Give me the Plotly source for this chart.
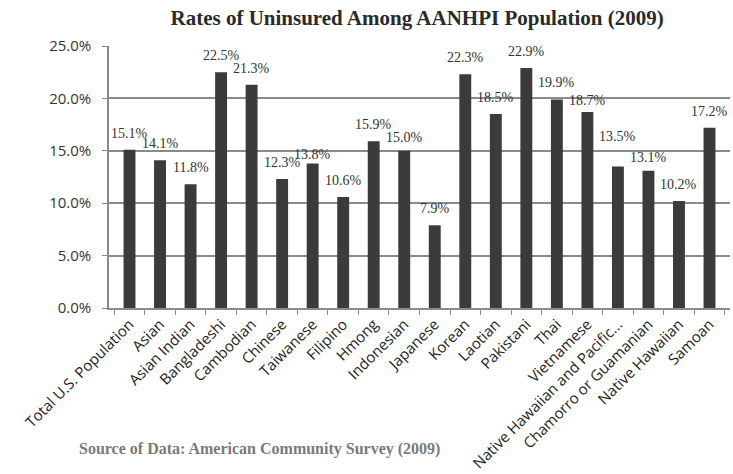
import plotly.graph_objects as go

categories = ["Total U.S. Population", "Asian", "Asian Indian", "Bangladeshi", "Cambodian",
              "Chinese", "Taiwanese", "Filipino", "Hmong", "Indonesian", "Japanese", "Korean",
              "Laotian", "Pakistani", "Thai", "Vietnamese", "Native Hawaiian and Pacific...",
              "Chamorro or Guamanian", "Native Hawaiian", "Samoan"]
rates = [15.1, 14.1, 11.8, 22.5, 21.3, 12.3, 13.8, 10.6, 15.9, 15.0, 7.9, 22.3,
         18.5, 22.9, 19.9, 18.7, 13.5, 13.1, 10.2, 17.2]
y_ticks = [0, 5, 10, 15, 20, 25]
y_tick_labels = ["0.0%", "5.0%", "10.0%", "15.0%", "20.0%", "25.0%"]

# label placement tweaks (pixels), as in the original chart where some labels were moved
label_nudge = {"Taiwanese": -8, "Indonesian": -3, "Vietnamese": -5,
               "Native Hawaiian and Pacific...": 14, "Chamorro or Guamanian": -3}

fig = go.Figure(go.Bar(
    x=categories, y=rates,
    marker=dict(color="#3b3b3b", line=dict(width=0)),
    hoverinfo="x+y",
))

annotations = [dict(x=c, y=v, xref="x", yref="y", text=f"{v:.1f}%", showarrow=False,
                    xanchor="center", yanchor="bottom", yshift=7 + label_nudge.get(c, 0),
                    font=dict(family="Liberation Serif", size=14, color="#333333"))
               for c, v in zip(categories, rates)]
annotations.append(dict(text="<b>Source of Data: American Community Survey (2009)</b>",
                        xref="paper", yref="paper", x=-0.052, y=-0.54,
                        xanchor="left", yanchor="middle", showarrow=False,
                        font=dict(family="Liberation Serif", size=16, color="#7a7a7a")))

fig.update_layout(
    width=733, height=474,
    margin=dict(l=109, r=3, t=46, b=166),
    paper_bgcolor="white", plot_bgcolor="white",
    bargap=0.61,
    showlegend=False,
    title=dict(text="<b>Rates of Uninsured Among AANHPI Population (2009)</b>",
               xref="container", x=0.569, xanchor="center", y=0.962, yanchor="middle",
               font=dict(family="Liberation Serif", size=21, color="#2a2a2a")),
    annotations=annotations,
)
fig.update_yaxes(range=[0, 25], tickvals=y_ticks, ticktext=y_tick_labels,
                 showgrid=True, gridcolor="#8a8a8a", gridwidth=1.5,
                 showline=True, linecolor="#8a8a8a", linewidth=1.5,
                 ticks="outside", ticklen=5, tickcolor="#8a8a8a", ticklabelstandoff=8,
                 tickfont=dict(family="Open Sans", size=15, color="#333333"),
                 zeroline=False, automargin=False)
fig.update_xaxes(tickangle=-45, tickson="boundaries", ticks="outside", ticklen=5,
                 tickcolor="#8a8a8a", showline=True, linecolor="#8a8a8a", linewidth=1.5,
                 tickfont=dict(family="Open Sans", size=15, color="#222222"),
                 automargin=False)

fig.write_html("out.html")
